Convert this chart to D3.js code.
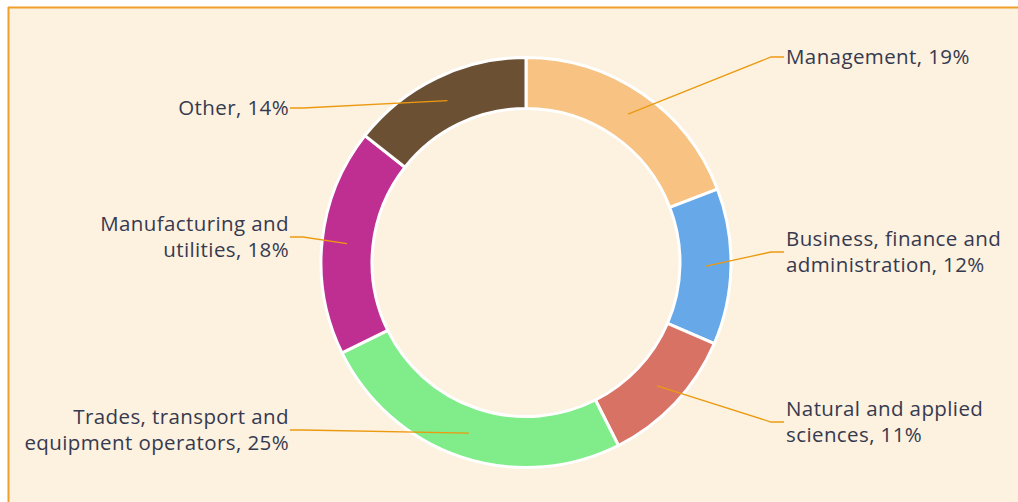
<!DOCTYPE html>
<html><head><meta charset="utf-8">
<script src="https://cdn.jsdelivr.net/npm/d3@7"></script>
<style>
html,body{margin:0;padding:0;background:#ffffff;}
svg{display:block;}
text{font-variant-ligatures:none;}
</style></head>
<body>
<svg id="chart" width="1018" height="502"></svg>
<script>
// ---- data ----
const categories = [
  "Management",
  "Business, finance and administration",
  "Natural and applied sciences",
  "Trades, transport and equipment operators",
  "Manufacturing and utilities",
  "Other"
];
const values = [19.2, 12.3, 11.1, 25.2, 17.9, 14.4];
const labelLines = [
  ["Management, 19%"],
  ["Business, finance and", "administration, 12%"],
  ["Natural and applied", "sciences, 11%"],
  ["Trades, transport and", "equipment operators, 25%"],
  ["Manufacturing and", "utilities, 18%"],
  ["Other, 14%"]
];
const colors = ["#f7c282", "#66a8e8", "#d87264", "#80ec8a", "#bf2f92", "#6b5034"];

// ---- layout ----
const W = 1018, H = 502;
const cx = 526, cy = 262.5;
const outerR = 205, innerR = 154, connectorR = 180;
const labelAnchors = [
  {side: 1, y: 57},
  {side: 1, y: 252},
  {side: 1, y: 422},
  {side: -1, y: 430},
  {side: -1, y: 237},
  {side: -1, y: 108}
];
const rightX = 784, leftX = 290, elbow = 13, lineH = 26.5;

const svg = d3.select("#chart");
svg.append("rect").attr("x", 8).attr("y", 7).attr("width", W - 8).attr("height", H - 7).attr("fill", "#fdf1e0");
svg.append("line").attr("x1", 8).attr("x2", W).attr("y1", 7.5).attr("y2", 7.5).attr("stroke", "#f0a02a").attr("stroke-width", 2);
svg.append("line").attr("x1", 8.5).attr("x2", 8.5).attr("y1", 7).attr("y2", H).attr("stroke", "#f0a02a").attr("stroke-width", 2);

const pie = d3.pie().sort(null).value(d => d);
const arcs = pie(values);
const arc = d3.arc().innerRadius(innerR).outerRadius(outerR);
const cArc = d3.arc().innerRadius(connectorR).outerRadius(connectorR);

const g = svg.append("g").attr("transform", `translate(${cx},${cy})`);
g.selectAll("path.slice").data(arcs).join("path")
  .attr("class", "slice")
  .attr("d", arc)
  .attr("fill", (d, i) => colors[i])
  .attr("stroke", "#ffffff")
  .attr("stroke-width", 3)
  .attr("stroke-linejoin", "round");

arcs.forEach((d, i) => {
  const [px, py] = cArc.centroid(d);
  const a = labelAnchors[i];
  const endX = a.side > 0 ? rightX : leftX;
  const midX = endX - a.side * elbow;
  svg.append("polyline")
    .attr("points", `${cx + px},${cy + py} ${midX},${a.y} ${endX},${a.y}`)
    .attr("fill", "none")
    .attr("stroke", "#eb9a10")
    .attr("stroke-width", 1.3);
  const lines = labelLines[i];
  const tx = a.side > 0 ? endX + 2 : endX - 1;
  const t = svg.append("text")
    .attr("x", tx)
    .attr("text-anchor", a.side > 0 ? "start" : "end")
    .attr("font-family", "'Open Sans', 'Noto Sans', sans-serif")
    .attr("font-size", 20.5)
    .attr("letter-spacing", 0.4)
    .attr("fill", "#363a4f");
  const y0 = a.y - (lines.length - 1) * lineH / 2;
  lines.forEach((s, k) => {
    t.append("tspan").attr("x", tx)
      .attr("y", y0 + k * lineH)
      .attr("dy", "0.35em")
      .text(s);
  });
});
</script>
</body></html>
